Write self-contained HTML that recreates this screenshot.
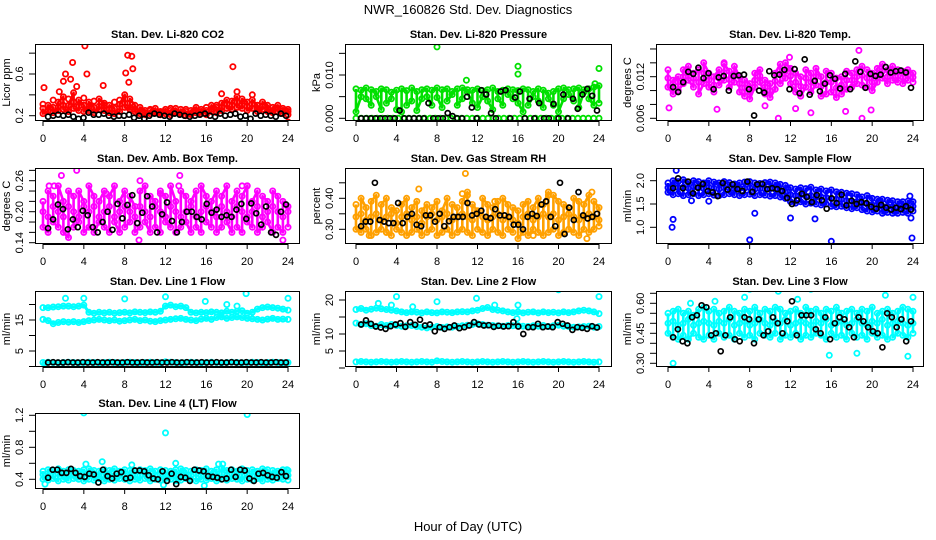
<!DOCTYPE html>
<html><head><meta charset="utf-8"><title>NWR_160826 Std. Dev. Diagnostics</title>
<style>
html,body{margin:0;padding:0;background:#fff;}
svg{display:block;font-family:"Liberation Sans",Arial,sans-serif;}
</style></head>
<body>
<svg id="chart" width="936" height="540" viewBox="0 0 936 540" xmlns="http://www.w3.org/2000/svg">
<text x="468" y="14" text-anchor="middle" font-size="13">NWR_160826  Std. Dev. Diagnostics</text>
<text x="468" y="531" text-anchor="middle" font-size="13">Hour of Day (UTC)</text>
</svg>
<script>
// ---- data ----
const xTicks = [0,4,8,12,16,20,24];
const co2A = [0.27,0.3,0.28,0.33,0.38,0.3,0.42,0.35,0.3,0.33,0.28,0.36,0.32,0.3,0.27,0.31,0.4,0.36,0.3,0.28,0.25,0.25,0.27,0.24,0.26,0.25,0.27,0.26,0.24,0.25,0.28,0.26,0.25,0.3,0.28,0.32,0.35,0.34,0.38,0.36,0.33,0.35,0.3,0.33,0.3,0.28,0.3,0.27,0.26];
const co2B = [0.22,0.24,0.23,0.25,0.26,0.24,0.27,0.25,0.24,0.25,0.23,0.26,0.25,0.23,0.22,0.24,0.28,0.26,0.24,0.22,0.21,0.22,0.23,0.21,0.22,0.21,0.23,0.22,0.2,0.21,0.23,0.22,0.21,0.24,0.23,0.25,0.27,0.26,0.28,0.27,0.25,0.27,0.24,0.26,0.24,0.23,0.24,0.22,0.21];
const co2C = [0.31,0.25,0.35,0.28,0.3,0.36,0.33,0.29,0.37,0.27,0.34,0.29,0.3,0.26,0.33,0.35,0.32,0.28,0.26,0.24,0.23,0.26,0.24,0.23,0.24,0.27,0.24,0.23,0.26,0.22,0.25,0.24,0.28,0.26,0.3,0.28,0.31,0.3,0.33,0.3,0.29,0.31,0.27,0.29,0.27,0.25,0.27,0.25,0.24];
const co2OutT = [0.1,4.1,2.9,8.3,8.7,8.8,18.6,2.2,4.3,8.1,2.7,5.9,8.4,3.3,1.6,2.0,17.5,19.0,20.5,24.0];
const co2OutV = [0.47,0.87,0.71,0.78,0.77,0.65,0.67,0.6,0.6,0.61,0.55,0.49,0.52,0.48,0.43,0.53,0.41,0.43,0.4,0.14];
const co2K = [0.19,0.2,0.21,0.2,0.21,0.19,0.17,0.18,0.23,0.21,0.21,0.22,0.2,0.19,0.2,0.2,0.21,0.18,0.2,0.17,0.2,0.22,0.21,0.2,0.19,0.22,0.21,0.2,0.19,0.2,0.21,0.22,0.2,0.19,0.22,0.2,0.21,0.22,0.19,0.2,0.17,0.22,0.2,0.21,0.2,0.19,0.22,0.2];

const prsA = [0.0068,0.0065,0.007,0.0066,0.0062,0.0068,0.0066,0.006,0.0065,0.0068,0.0064,0.007,0.0062,0.0066,0.0068,0.0065,0.007,0.0066,0.0068,0.0062,0.0068,0.007,0.0066,0.0065,0.0068,0.0064,0.0066,0.007,0.0062,0.0065,0.0068,0.0066,0.0064,0.0068,0.0066,0.0062,0.0068,0.0065,0.0058,0.0062,0.0068,0.007,0.0066,0.0068,0.007,0.0066,0.0068,0.0072,0.0075];
const prsB = [0.0015,0.005,0.0045,0.003,0.005,0.002,0.0035,0.0045,0.002,0.0015,0.003,0.004,0.0018,0.0045,0.005,0.003,0.0048,0.0025,0.004,0.0055,0.003,0.0045,0.006,0.0035,0.0025,0.005,0.004,0.002,0.0045,0.003,0.0055,0.0045,0.0035,0.0015,0.003,0.005,0.004,0.0025,0.0045,0.003,0.0015,0.0045,0.0055,0.004,0.0025,0.006,0.0045,0.003,0.0035];
const prsC = [0,0,0,0,0,0,0,0,0,0,0,0,0,0,0,0,0,0,0,0,0,0,0,0,0,0,0,0,0,0,0,0,0,0,0,0,0,0,0,0,0,0,0,0,0,0,0];
const prsOutT = [8,16,16,24,10.9,23.6];
const prsOutV = [0.0165,0.012,0.0102,0.0115,0.0088,0.008];
const prsK = [0,0,0,0,0,0,0,0,0.0018,0,0,0,0,0,0.0035,0,0,0,0.0012,0.0005,0,0,0.005,0.0025,0,0.0065,0.0055,0.0012,0,0.0062,0.0065,0,0.0048,0.0062,0,0.0045,0,0.0035,0,0,0.0033,0,0.0055,0,0.0045,0.0022,0.0055,0.0068,0.0052,0.0018];

const tmpA = [0.013,0.0115,0.012,0.013,0.0135,0.0125,0.013,0.014,0.0125,0.012,0.013,0.0138,0.0128,0.0135,0.012,0.0115,0.011,0.0125,0.013,0.0115,0.011,0.0125,0.0138,0.014,0.0132,0.0125,0.012,0.013,0.0125,0.0132,0.012,0.0128,0.0125,0.0118,0.012,0.0128,0.0125,0.013,0.0135,0.013,0.0125,0.0132,0.0138,0.013,0.0135,0.013,0.0128,0.013,0.0125];
const tmpB = [0.0105,0.0095,0.01,0.011,0.0115,0.0105,0.0095,0.011,0.0105,0.0098,0.0108,0.0115,0.0105,0.0112,0.0098,0.0092,0.0088,0.0105,0.0112,0.0095,0.009,0.0102,0.011,0.0118,0.011,0.0098,0.0092,0.0105,0.0098,0.0108,0.0092,0.0095,0.0098,0.009,0.0095,0.0102,0.0105,0.011,0.0108,0.0105,0.01,0.0112,0.0118,0.011,0.0115,0.0112,0.011,0.0115,0.0112];
const tmpC = [0.0118,0.011,0.0112,0.012,0.0125,0.0118,0.0112,0.0125,0.0115,0.0108,0.0118,0.0126,0.0116,0.0124,0.011,0.0104,0.0098,0.0115,0.0121,0.0105,0.01,0.0114,0.0124,0.0128,0.0121,0.0112,0.0106,0.0118,0.0112,0.012,0.0106,0.0112,0.0112,0.0104,0.0108,0.0115,0.0115,0.012,0.0122,0.0118,0.0112,0.0122,0.0128,0.012,0.0125,0.0121,0.0119,0.0122,0.0119];
const tmpOutT = [0.1,4.8,10.8,19,18.7,14,17.4,11.9,5.5,9.5,12.5,19.9];
const tmpOutV = [0.0075,0.0073,0.006,0.006,0.0158,0.0068,0.007,0.0148,0.014,0.0078,0.0074,0.0072];
const tmpK = [0.0105,0.0098,0.0112,0.0127,0.0124,0.0133,0.0118,0.0125,0.0102,0.0119,0.0121,0.01,0.0121,0.0122,0.0123,0.0102,0.0064,0.01,0.0097,0.0128,0.0122,0.0123,0.013,0.0102,0.0131,0.0096,0.0145,0.0094,0.0114,0.0099,0.011,0.0122,0.0117,0.0103,0.0124,0.0102,0.0142,0.0127,0.0104,0.0124,0.0121,0.0123,0.0134,0.0126,0.0128,0.0129,0.0126,0.0104];

const ambA = [0.22,0.24,0.23,0.25,0.22,0.24,0.23,0.24,0.22,0.25,0.23,0.22,0.24,0.23,0.25,0.22,0.24,0.23,0.21,0.24,0.25,0.23,0.22,0.24,0.23,0.25,0.22,0.24,0.23,0.22,0.24,0.25,0.23,0.22,0.24,0.23,0.25,0.22,0.24,0.23,0.25,0.22,0.24,0.23,0.22,0.24,0.23,0.22,0.21];
const ambB = [0.17,0.16,0.18,0.17,0.16,0.15,0.17,0.18,0.16,0.17,0.16,0.18,0.17,0.16,0.18,0.16,0.17,0.18,0.16,0.17,0.18,0.16,0.17,0.16,0.18,0.17,0.16,0.17,0.18,0.16,0.17,0.16,0.18,0.17,0.16,0.17,0.18,0.16,0.17,0.16,0.18,0.17,0.16,0.17,0.18,0.16,0.17,0.16,0.17];
const ambC = [0.2,0.19,0.21,0.2,0.19,0.21,0.2,0.19,0.21,0.2,0.21,0.19,0.2,0.21,0.19,0.2,0.21,0.2,0.19,0.21,0.2,0.19,0.21,0.2,0.19,0.21,0.2,0.19,0.2,0.21,0.19,0.2,0.21,0.2,0.19,0.21,0.2,0.19,0.21,0.2,0.19,0.2,0.21,0.19,0.2,0.21,0.2,0.19,0.2];
const ambOutT = [0.6,1.1,1.8,3.3,9.5,13.4,13.3,19.5,20,9.4,23.5,6.2,11.5];
const ambOutV = [0.25,0.25,0.27,0.28,0.26,0.27,0.25,0.25,0.25,0.145,0.145,0.235,0.235];
const ambK = [0.168,0.185,0.214,0.205,0.166,0.185,0.17,0.202,0.193,0.17,0.16,0.18,0.2,0.165,0.215,0.187,0.213,0.232,0.178,0.198,0.23,0.21,0.16,0.195,0.218,0.182,0.16,0.18,0.2,0.2,0.19,0.185,0.215,0.198,0.204,0.19,0.193,0.19,0.204,0.215,0.186,0.216,0.197,0.175,0.21,0.16,0.155,0.2,0.214];

const rhA = [0.38,0.4,0.37,0.39,0.41,0.38,0.4,0.37,0.36,0.38,0.4,0.37,0.39,0.36,0.38,0.37,0.39,0.36,0.4,0.38,0.37,0.39,0.42,0.38,0.36,0.4,0.38,0.37,0.39,0.4,0.38,0.37,0.36,0.38,0.39,0.37,0.4,0.38,0.42,0.41,0.39,0.38,0.37,0.4,0.39,0.38,0.41,0.39,0.37];
const rhB = [0.3,0.29,0.3,0.28,0.29,0.3,0.29,0.28,0.3,0.29,0.28,0.29,0.3,0.28,0.29,0.3,0.28,0.29,0.3,0.28,0.29,0.3,0.29,0.28,0.3,0.29,0.28,0.3,0.29,0.28,0.3,0.29,0.27,0.29,0.28,0.3,0.29,0.28,0.29,0.3,0.28,0.29,0.3,0.29,0.28,0.3,0.29,0.3,0.31];
const rhC = [0.34,0.35,0.33,0.34,0.35,0.33,0.34,0.35,0.32,0.34,0.35,0.33,0.34,0.32,0.34,0.35,0.33,0.34,0.35,0.33,0.34,0.35,0.34,0.33,0.35,0.34,0.33,0.34,0.35,0.33,0.34,0.33,0.32,0.34,0.35,0.33,0.34,0.35,0.34,0.35,0.33,0.34,0.35,0.34,0.33,0.34,0.35,0.34,0.33];
const rhOutT = [10.8,13.7,6.2,23.3,22.8,1.3,3,17.5,10.5,11,19];
const rhOutV = [0.48,0.39,0.43,0.42,0.27,0.28,0.29,0.28,0.415,0.41,0.41];
const rhK = [0.31,0.325,0.325,0.45,0.33,0.325,0.32,0.32,0.385,0.32,0.34,0.35,0.315,0.31,0.345,0.345,0.325,0.35,0.31,0.326,0.34,0.34,0.34,0.385,0.345,0.35,0.36,0.34,0.336,0.365,0.345,0.345,0.34,0.315,0.315,0.3,0.34,0.35,0.343,0.38,0.39,0.34,0.31,0.45,0.285,0.37,0.33,0.42,0.345,0.335,0.34,0.35];

const sfA = [1.95,2.0,1.98,2.02,1.97,2.0,1.98,1.95,2.0,1.97,1.95,1.98,1.96,1.93,1.95,1.97,1.98,1.95,1.94,1.96,1.97,1.95,1.92,1.9,1.85,1.82,1.85,1.83,1.86,1.8,1.82,1.78,1.8,1.76,1.75,1.73,1.72,1.7,1.65,1.68,1.62,1.6,1.6,1.58,1.57,1.55,1.55,1.56,1.55];
const sfB = [1.75,1.7,1.72,1.68,1.7,1.72,1.68,1.7,1.72,1.69,1.68,1.7,1.72,1.7,1.68,1.7,1.71,1.68,1.7,1.69,1.67,1.68,1.65,1.62,1.55,1.52,1.55,1.5,1.52,1.5,1.48,1.5,1.45,1.44,1.45,1.42,1.4,1.42,1.38,1.35,1.33,1.35,1.3,1.32,1.3,1.3,1.32,1.3,1.35];
const sfC = [1.85,1.88,1.85,1.86,1.84,1.87,1.85,1.83,1.86,1.84,1.82,1.85,1.84,1.82,1.83,1.84,1.85,1.82,1.83,1.82,1.83,1.82,1.78,1.76,1.7,1.68,1.7,1.67,1.68,1.65,1.65,1.64,1.62,1.6,1.6,1.57,1.56,1.55,1.52,1.5,1.48,1.48,1.45,1.45,1.44,1.43,1.44,1.43,1.45];
const sfOutT = [0.4,0.5,0.8,8.0,8.5,12,14.4,16,23.9,23.8,23.7,2.3,4.0];
const sfOutV = [1.0,1.17,2.22,0.73,1.3,1.2,1.18,0.7,0.77,1.2,1.67,1.57,1.56];
const sfK = [1.84,2.05,1.84,1.98,1.73,1.85,1.93,1.78,1.75,1.67,1.95,1.81,1.92,1.82,1.78,1.98,1.76,1.92,1.93,1.82,1.84,1.82,1.78,1.63,1.5,1.58,1.72,1.65,1.54,1.69,1.58,1.4,1.62,1.52,1.7,1.47,1.57,1.5,1.54,1.52,1.44,1.4,1.48,1.42,1.38,1.42,1.39,1.45,1.38];

const l1A = [19,19,19.2,19.3,19.5,19.5,19.3,19.5,19.8,17.5,17.2,17.5,17.3,17.5,17.2,17.4,17.5,17.3,17.6,17.5,17.4,17.6,17.5,17.8,19.5,19.8,19.3,19.5,19,17.5,17.3,17.5,17.4,17.6,17.5,17.3,17.8,17.5,17.8,18,17.2,17.5,18.5,19,19.2,19,18.8,18.5,18.2];
const l1B = [15.2,14.8,13.8,14.2,14.5,14.3,14.5,14.2,14.5,14.8,15,15.2,15,14.8,15,14.6,14.8,15,15.2,14.8,15,14.6,14.5,14.8,15,15.2,15.4,15.5,15.2,15,14.8,15.3,15.5,15.2,15.8,16,15.5,15.8,16,15.8,15.5,15.4,15.2,15,15.3,15.5,15.2,15.3,15.2];
const l1C = [1.3,1.4,1.3,1.2,1.3,1.4,1.3,1.2,1.3,1.4,1.3,1.2,1.3,1.4,1.3,1.2,1.3,1.4,1.3,1.2,1.3,1.4,1.3,1.2,1.5,1.4,1.3,1.2,1.3,1.4,1.3,1.2,1.3,1.4,1.3,1.2,1.3,1.4,1.3,1.2,1.3,1.4,1.3,1.2,1.3,1.4,1.3,1.2,1.3];
const l1OutT = [2.2,4,8,12,15.9,19.9,24,18,19,0.2];
const l1OutV = [22,22,21.8,22.5,21,23.5,22,20,19.5,1.0];
const l1K = [1.3,1.4,1.3,1.3,1.4,1.3,1.3,1.4,1.3,1.3,1.4,1.3,1.3,1.4,1.3,1.3,1.4,1.3,1.3,1.4,1.3,1.3,1.4,1.3,1.3,1.4,1.3,1.3,1.4,1.3,1.3,1.4,1.3,1.3,1.4,1.3,1.3,1.4,1.3,1.3,1.4,1.3,1.3,1.4,1.3,1.3,1.4,1.3,1.3];

const l2A = [17.2,17.5,17,17.3,17.6,17.4,17.2,17,16.8,16.5,16.3,16.5,16.4,16.2,16.5,16.3,16.2,16.5,16.4,16.3,16.5,16.6,16.5,16.8,17,17.5,17.8,17.2,17,16.8,16.5,16.3,16.5,16.2,16.4,16.5,16.2,16.5,16.3,16.4,16.2,16.5,16.3,16.5,16.8,17,16.8,16.5,16];
const l2B = [13.2,12.8,13,12.5,12.3,12.8,12.5,12.8,12.5,12.3,12.4,12.5,12.2,12,11.8,12,12.2,11.9,12.1,12,12.2,12.4,12.6,12.8,13,12.8,12.6,12.5,12.4,12.3,12.5,12.4,12.5,12.3,12.2,12.4,12.3,12.5,12.2,12.4,12.6,12.3,12.2,12,12.1,12.2,12.3,12,12.2];
const l2C = [1.8,1.9,1.8,1.7,1.8,1.9,1.8,1.7,1.8,1.9,1.8,1.7,1.8,1.9,1.8,1.7,2.1,1.9,1.8,1.7,1.8,1.9,1.8,1.7,1.8,1.9,1.8,1.7,1.8,1.9,1.8,1.7,1.8,1.9,1.8,1.7,1.8,1.9,1.8,1.7,1.8,1.9,1.8,1.7,1.8,1.9,1.8,1.7,1.8];
const l2OutT = [2.2,4,3.5,8,11.9,16,20,24,5.6,13.7,15.9];
const l2OutV = [19,21,18.5,19.5,20.5,18.5,23,21,18,18.5,14.5];
const l2K = [12.8,14,13,12.2,11.9,11.5,12.3,12.8,13.2,12.1,13.5,12.7,14.2,12.5,12.8,10.8,12,11.5,12,12.5,11.7,12,12.5,13.5,12.8,12.5,12.6,12.1,12.4,12.2,12.3,13.5,12.2,10,12,12,13,12,12.2,12,13.5,13,12.5,11.2,12,11.8,11.5,12.3,11.9];

const l3A = [0.55,0.56,0.57,0.55,0.56,0.54,0.57,0.58,0.56,0.57,0.55,0.56,0.58,0.56,0.55,0.57,0.56,0.58,0.55,0.57,0.56,0.58,0.57,0.55,0.56,0.57,0.55,0.58,0.56,0.57,0.55,0.57,0.56,0.58,0.55,0.56,0.57,0.55,0.57,0.56,0.58,0.55,0.56,0.57,0.55,0.56,0.58,0.57,0.56];
const l3B = [0.45,0.43,0.42,0.44,0.42,0.45,0.43,0.42,0.44,0.42,0.45,0.43,0.44,0.42,0.45,0.43,0.44,0.42,0.45,0.44,0.43,0.45,0.42,0.44,0.43,0.45,0.42,0.44,0.43,0.45,0.44,0.42,0.45,0.43,0.44,0.42,0.45,0.43,0.44,0.42,0.45,0.43,0.44,0.42,0.43,0.45,0.44,0.43,0.45];
const l3C = [0.5,0.51,0.49,0.5,0.52,0.49,0.5,0.51,0.5,0.49,0.51,0.5,0.52,0.49,0.5,0.51,0.49,0.5,0.52,0.5,0.49,0.51,0.5,0.52,0.49,0.5,0.51,0.5,0.49,0.51,0.5,0.52,0.49,0.5,0.51,0.49,0.5,0.52,0.5,0.49,0.51,0.5,0.52,0.49,0.5,0.51,0.5,0.49,0.5];
const l3OutT = [0.5,8,10.8,14,15.8,18.5,23.5,24,21.3,7.5,2.2,4.6,12.7];
const l3OutV = [0.3,0.67,0.66,0.67,0.34,0.35,0.335,0.63,0.64,0.63,0.6,0.61,0.62];
const l3K = [0.43,0.47,0.41,0.4,0.53,0.54,0.59,0.58,0.44,0.45,0.36,0.44,0.53,0.42,0.41,0.53,0.52,0.4,0.52,0.44,0.46,0.53,0.5,0.45,0.51,0.61,0.44,0.54,0.54,0.54,0.47,0.45,0.53,0.42,0.5,0.53,0.52,0.48,0.43,0.53,0.51,0.48,0.46,0.45,0.38,0.55,0.53,0.48,0.52,0.41,0.51];

const l4A = [0.5,0.52,0.51,0.53,0.5,0.52,0.51,0.5,0.52,0.53,0.51,0.5,0.52,0.51,0.53,0.5,0.52,0.51,0.5,0.52,0.51,0.53,0.5,0.52,0.51,0.5,0.52,0.53,0.51,0.5,0.52,0.51,0.53,0.5,0.52,0.54,0.51,0.52,0.5,0.53,0.51,0.52,0.5,0.53,0.52,0.51,0.5,0.52,0.51];
const l4B = [0.4,0.39,0.41,0.38,0.4,0.39,0.41,0.4,0.38,0.4,0.39,0.41,0.38,0.4,0.39,0.41,0.4,0.38,0.4,0.39,0.41,0.38,0.4,0.39,0.41,0.4,0.38,0.39,0.41,0.4,0.38,0.4,0.39,0.41,0.38,0.4,0.39,0.41,0.4,0.38,0.4,0.39,0.41,0.38,0.4,0.39,0.41,0.4,0.39];
const l4C = [0.46,0.44,0.45,0.47,0.44,0.46,0.45,0.44,0.47,0.45,0.46,0.44,0.45,0.47,0.44,0.46,0.45,0.44,0.46,0.45,0.47,0.44,0.45,0.46,0.44,0.47,0.45,0.46,0.44,0.45,0.47,0.44,0.46,0.45,0.44,0.47,0.45,0.46,0.44,0.45,0.47,0.44,0.46,0.45,0.44,0.46,0.45,0.47,0.45];
const l4OutT = [4,12,20,4.2,5.8,13,0.2,8.7,11.8,15.8,17.2,17.6,23.9];
const l4OutV = [1.23,0.98,1.21,0.59,0.62,0.6,0.34,0.58,0.33,0.32,0.59,0.59,0.52];
const l4K = [0.42,0.52,0.52,0.48,0.48,0.53,0.48,0.44,0.43,0.47,0.46,0.36,0.52,0.44,0.41,0.47,0.49,0.41,0.42,0.51,0.51,0.5,0.45,0.41,0.4,0.5,0.38,0.47,0.34,0.43,0.42,0.38,0.52,0.51,0.5,0.44,0.43,0.42,0.4,0.41,0.52,0.43,0.52,0.51,0.41,0.38,0.47,0.48,0.45,0.43,0.42,0.49,0.44];

// ---- layout ----
const cols = [{l:35,r:300,x0:43,x24:288},{l:345,r:612,x0:356,x24:599},{l:656,r:924,x0:668,x24:913}];
const rows = [{t:44,b:121},{t:168,b:244},{t:291,b:367},{t:413,b:489}];

const panels = [
 {name:'co2',title:'Stan. Dev. Li-820 CO2',ylab:'Licor ppm',c:0,r:0,col:'#ff0000',fill:true,va:0.2,pa:115.7,vb:0.6,pb:74,ticks:[0.2,0.4,0.6,0.8],labels:['0.2','','0.6',''],series:[co2A,co2B,co2C],outT:co2OutT,outV:co2OutV,k:co2K},
 {name:'pressure',title:'Stan. Dev. Li-820 Pressure',ylab:'kPa',c:1,r:0,col:'#00e000',fill:true,va:0,pa:118.3,vb:0.01,pb:75,ticks:[0,0.005,0.01,0.015],labels:['0.000','','0.010',''],series:[prsA,prsB,prsC],outT:prsOutT,outV:prsOutV,k:prsK},
 {name:'li820-temp',title:'Stan. Dev. Li-820 Temp.',ylab:'degrees C',c:2,r:0,col:'#ff00ff',fill:true,va:0.006,pa:118.3,vb:0.012,pb:76.7,ticks:[0.006,0.008,0.01,0.012,0.014,0.016],labels:['0.006','','','0.012','',''],series:[tmpA,tmpB,tmpC],outT:tmpOutT,outV:tmpOutV,k:tmpK},
 {name:'amb-box-temp',title:'Stan. Dev. Amb. Box Temp.',ylab:'degrees C',c:0,r:1,col:'#ff00ff',fill:true,va:0.14,pa:242.7,vb:0.2,pb:211.7,ticks:[0.14,0.16,0.18,0.2,0.22,0.24,0.26,0.28],labels:['0.14','','','0.20','','','0.26',''],series:[ambA,ambB,ambC],outT:ambOutT,outV:ambOutV,k:ambK},
 {name:'gas-rh',title:'Stan. Dev. Gas Stream RH',ylab:'percent',c:1,r:1,col:'#ffa000',fill:true,va:0.3,pa:229.3,vb:0.4,pb:198.3,ticks:[0.3,0.35,0.4,0.45],labels:['0.30','','0.40',''],series:[rhA,rhB,rhC],outT:rhOutT,outV:rhOutV,k:rhK},
 {name:'sample-flow',title:'Stan. Dev. Sample Flow',ylab:'ml/min',c:2,r:1,col:'#0000ff',fill:true,va:1.0,pa:227.3,vb:2.0,pb:180.7,ticks:[1.0,1.5,2.0],labels:['1.0','1.5','2.0'],series:[sfA,sfB,sfC],outT:sfOutT,outV:sfOutV,k:sfK},
 {name:'line1-flow',title:'Stan. Dev. Line 1 Flow',ylab:'ml/min',c:0,r:2,col:'#00ffff',fill:false,va:5,pa:351,vb:15,pb:320,ticks:[0,5,10,15,20],labels:['','5','','15',''],series:[l1A,l1B,l1C],outT:l1OutT,outV:l1OutV,k:l1K},
 {name:'line2-flow',title:'Stan. Dev. Line 2 Flow',ylab:'ml/min',c:1,r:2,col:'#00ffff',fill:false,va:5,pa:351,vb:20,pb:300,ticks:[0,5,10,15,20],labels:['','5','10','','20'],series:[l2A,l2B,l2C],outT:l2OutT,outV:l2OutV,k:l2K},
 {name:'line3-flow',title:'Stan. Dev. Line 3 Flow',ylab:'ml/min',c:2,r:2,col:'#00ffff',fill:true,va:0.3,pa:363.3,vb:0.6,pb:303.3,ticks:[0.3,0.35,0.4,0.45,0.5,0.55,0.6,0.65],labels:['0.30','','','0.45','','','0.60',''],series:[l3A,l3B,l3C],outT:l3OutT,outV:l3OutV,k:l3K},
 {name:'line4-flow',title:'Stan. Dev. Line 4 (LT) Flow',ylab:'ml/min',c:0,r:3,col:'#00ffff',fill:true,va:0.4,pa:479.3,vb:1.2,pb:415.3,ticks:[0.4,0.6,0.8,1.0,1.2],labels:['0.4','','0.8','','1.2'],series:[l4A,l4B,l4C],outT:l4OutT,outV:l4OutV,k:l4K}
];

const NS = 'http://www.w3.org/2000/svg';
const svg = document.getElementById('chart');
function mk(tag, attrs, parent){
  const e = document.createElementNS(NS, tag);
  for (const k in attrs) e.setAttribute(k, attrs[k]);
  parent.appendChild(e);
  return e;
}

panels.forEach(p => {
  const C = cols[p.c], R = rows[p.r];
  const xs = t => C.x0 + (C.x24 - C.x0) * t / 24;
  const ys = v => p.pa + (v - p.va) * (p.pb - p.pa) / (p.vb - p.va);
  const g = mk('g', {}, svg);
  
  

  const clip = mk('clipPath', {id:'clip-' + p.name}, g);
  mk('rect', {x:C.l, y:R.t, width:C.r - C.l, height:R.b - R.t}, clip);

  const pts = mk('g', {'clip-path':'url(#clip-' + p.name + ')'}, g);
  
  

  if (p.fill) {
    // dense cloud between upper and lower samples: zigzag through both
    const A = p.series[0], B = p.series[1];
    const parts = [];
    A.forEach((v, i) => {
      const x = xs(24 * i / (A.length - 1)).toFixed(1);
      if (i % 2 === 0) { parts.push(x + ',' + ys(v).toFixed(1)); parts.push(x + ',' + ys(B[i]).toFixed(1)); }
      else { parts.push(x + ',' + ys(B[i]).toFixed(1)); parts.push(x + ',' + ys(v).toFixed(1)); }
    });
    const zz = mk('polyline', {points:parts.join(' '), fill:'none', stroke:p.col, 'stroke-width':2.6, 'stroke-linejoin':'round'}, pts);
    
    
  } else {
    p.series.forEach(arr => {
      const d = arr.map((v, i) => xs(24 * i / (arr.length - 1)).toFixed(1) + ',' + ys(v).toFixed(1)).join(' ');
      const pl = mk('polyline', {points:d, fill:'none', stroke:p.col, 'stroke-width':3, 'stroke-linejoin':'round'}, pts);
      
      
    });
  }
  p.series.forEach(arr => {
    arr.forEach((v, i) => {
      const t = 24 * i / (arr.length - 1);
      const c = mk('circle', {cx:xs(t).toFixed(1), cy:ys(v).toFixed(1), r:2.6, fill:'none', stroke:p.col, 'stroke-width':1.8}, pts);
      
      
    });
  });
  p.outT.forEach((t, i) => {
    const c = mk('circle', {cx:xs(t).toFixed(1), cy:ys(p.outV[i]).toFixed(1), r:2.6, fill:'none', stroke:p.col, 'stroke-width':1.8}, pts);
    
    
  });
  p.k.forEach((v, i) => {
    const t = 0.5 + 23.3 * i / (p.k.length - 1);
    const c = mk('circle', {cx:xs(t).toFixed(1), cy:ys(v).toFixed(1), r:2.5, fill:'none', stroke:'#000', 'stroke-width':1.7}, pts);
    
    
  });

  const box = mk('rect', {x:C.l + 0.5, y:R.t + 0.5, width:C.r - C.l - 1, height:R.b - R.t - 1, fill:'none', stroke:'#000', 'stroke-width':1}, g);
  
  

  const title = mk('text', {x:(C.l + C.r) / 2, y:R.t - 6, 'text-anchor':'middle', 'font-size':11, 'font-weight':'bold'}, g);
  title.textContent = p.title;
  
  

  const xa = mk('g', {}, g);
  
  
  mk('line', {x1:xs(0), x2:xs(24), y1:R.b + 0.5, y2:R.b + 0.5, stroke:'#000'}, xa);
  xTicks.forEach(t => {
    mk('line', {x1:xs(t), x2:xs(t), y1:R.b, y2:R.b + 5, stroke:'#000'}, xa);
    const tl = mk('text', {x:xs(t), y:R.b + 21, 'text-anchor':'middle', 'font-size':11}, xa);
    tl.textContent = t;
    
    
  });

  const ya = mk('g', {}, g);
  
  
  p.ticks.forEach((v, i) => {
    const y = ys(v);
    if (y < R.t - 1 || y > R.b + 1) return;
    mk('line', {x1:C.l - 6, x2:C.l, y1:y, y2:y, stroke:'#000'}, ya);
    if (p.labels[i]) {
      const lx = C.l - 12;
      const tl = mk('text', {x:lx, y:y, 'text-anchor':'middle', 'font-size':11, transform:'rotate(-90 ' + lx + ' ' + y + ')'}, ya);
      tl.textContent = p.labels[i];
      
      
    }
  });
  const yl = C.l - 25, ym = (R.t + R.b) / 2;
  const yt = mk('text', {x:yl, y:ym, 'text-anchor':'middle', 'font-size':11, transform:'rotate(-90 ' + yl + ' ' + ym + ')'}, ya);
  yt.textContent = p.ylab;
  
  
});
</script>
</body></html>
